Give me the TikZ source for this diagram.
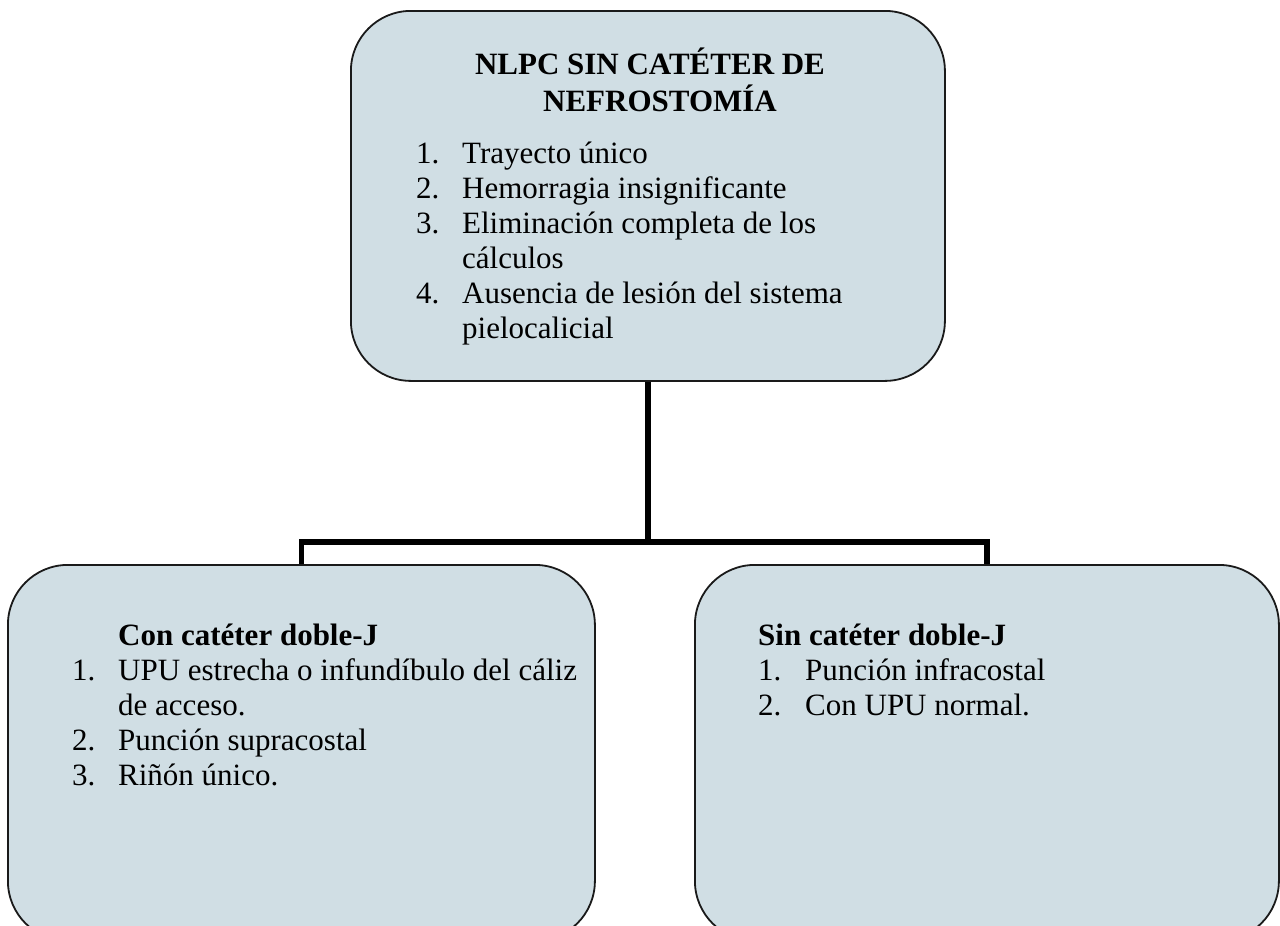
\documentclass[tikz,border=0pt]{standalone}
\usepackage{fontspec}
\setmainfont{Liberation Serif}
\definecolor{boxfill}{HTML}{D0DEE4}
\definecolor{edge}{HTML}{1A1A1A}
\begin{document}
\begin{tikzpicture}[x=1pt,y=-1pt,
  box/.style={draw=edge, line width=1.8pt, fill=boxfill, rounded corners=60pt, inner sep=0pt, anchor=north west},
  conn/.style={line width=5.5pt, line join=miter, draw=black},
  txt/.style={inner sep=0pt, font=\fontsize{31}{35}\selectfont, anchor=base west},
  ttl/.style={inner sep=0pt, font=\fontsize{31}{36}\selectfont\bfseries, anchor=base},
]
\useasboundingbox (0,0) rectangle (1280,926);
\clip (0,0) rectangle (1280,926);
% boxes
\node[box, minimum width=594pt, minimum height=370pt] (top) at (350,10) {};
\node[box, minimum width=587pt, minimum height=376pt] (left) at (7,564) {};
\node[box, minimum width=584pt, minimum height=376pt] (right) at (694,564) {};
% connectors
\coordinate (j) at (647,542);
\draw[conn] (top.south) -- (top.south |- j);
\draw[conn] (left.north) -- (left.north |- j) -- (right.north |- j) -- (right.north);
% texts
\node[ttl] (title) at (650,74) {\begin{tabular}[t]{@{}c@{}}NLPC SIN CATÉTER DE\\\hspace*{20pt}NEFROSTOMÍA\end{tabular}};
\node[txt] (toplist) at (416,163) {\begin{tabular}[t]{@{}p{46pt}@{}l@{}}1.&Trayecto único\\2.&Hemorragia insignificante\\3.&Eliminación completa de los\\&cálculos\\4.&Ausencia de lesión del sistema\\&pielocalicial\end{tabular}};
\node[txt] (leftlist) at (72,645) {\begin{tabular}[t]{@{}p{46pt}@{}l@{}}&\textbf{Con catéter doble-J}\\1.&UPU estrecha o infundíbulo del cáliz\\&de acceso.\\2.&Punción supracostal\\3.&Riñón único.\end{tabular}};
\node[txt] (rightlist) at (758,645) {\begin{tabular}[t]{@{}p{47pt}@{}l@{}}\multicolumn{2}{@{}l@{}}{\textbf{Sin catéter doble-J}}\\1.&Punción infracostal\\2.&Con UPU normal.\end{tabular}};
\end{tikzpicture}
\end{document}
